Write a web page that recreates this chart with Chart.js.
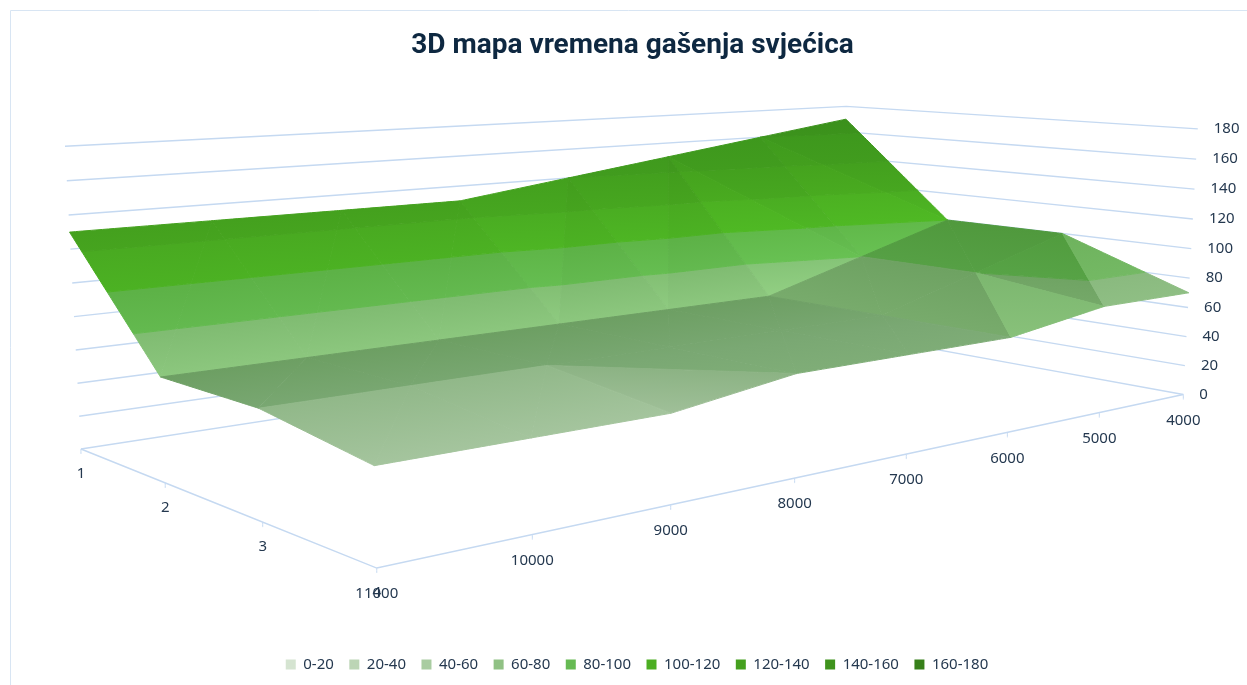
<!DOCTYPE html>
<html>
<head>
<meta charset="utf-8">
<title>3D mapa vremena gašenja svjećica</title>
<script src="https://cdn.jsdelivr.net/npm/chart.js@4"></script>
<style>
html,body{margin:0;padding:0;background:#fff}
#wrap{position:relative;width:1247px;height:685px}
canvas{display:block}
</style>
</head>
<body>
<div id="wrap"><canvas id="c" width="1247" height="685"></canvas></div>
<script>
// ---- data ----
const chartTitle = '3D mapa vremena gašenja svjećica';
const rpmLabels = [4000, 5000, 6000, 7000, 8000, 9000, 10000, 11000];
const cylinderLabels = [1, 2, 3, 4];
const series1 = [170, 160, 150, 140, 130, 130, 130, 130];
const series2 = [100, 80, 60, 60, 60, 60, 60, 60];
const series3 = [100, 80, 60, 60, 60, 60, 60, 60];
const series4 = [70, 70, 60, 60, 60, 50, 50, 50];
const valueTicks = [0, 20, 40, 60, 80, 100, 120, 140, 160, 180];
const bandLabels = ['0-20', '20-40', '40-60', '60-80', '80-100', '100-120', '120-140', '140-160', '160-180'];
const legendColors = ['#d5e4d1', '#bcd5b5', '#a9cca1', '#90c184', '#66ba53', '#4cae22', '#45a01f', '#3f931d', '#37801a'];
const bandTopColors = ['#cfe0ca', '#b8d2b2', '#90b888', '#80bc72', '#5db247', '#49aa21', '#429d1d', '#3d951c', '#388a1a'];
const bandBottomColors = ['#d8e6d4', '#c6dcc0', '#b8d2b2', '#8cc77e', '#64ba50', '#4cb223', '#46a41f', '#40991d', '#3b901b'];
const flatColors = ['#6d9f63', '#7aa873', '#80ae78'];

// ---- camera: homogeneous projection of (rpm position, cylinder position, value) ----
const CAM = {
  x: [81, 1051.8, 219.3, -17.85],
  y: [449, -2.0, 3.5, -307],
  w: [1, 0.3454, -0.2034, -0.0287]
};
const zMax = valueTicks[valueTicks.length - 1];
const nR = rpmLabels.length, nC = cylinderLabels.length;
function project(i, j, z) {
  const u = i / (nR - 1), v = j / (nC - 1), t = z / zMax;
  const f = c => c[0] + c[1] * u + c[2] * v + c[3] * t;
  const w = f(CAM.w);
  return {x: f(CAM.x) / w, y: f(CAM.y) / w};
}
// i counts from the 11000 end of the axis
const rows = [series1, series2, series3, series4];
const Z = (i, j) => rows[j][nR - 1 - i];

// ---- helpers ----
const hexRgb = h => [1, 3, 5].map(k => parseInt(h.substr(k, 2), 16));
function tint(h, shade) {
  const s = shade.s;
  const rgb = hexRgb(h).map(c => (shade.steep || s <= 1) ? c * s : c + 2 * (s - 1) * (180 - c));
  return 'rgb(' + rgb.map(c => Math.min(255, Math.round(c))).join(',') + ')';
}
function shadeOf(tri) {
  // plane z = a*i + b*j + c through the three grid vertices
  const [p, q, r] = tri;
  const d = (q.i - p.i) * (r.j - p.j) - (r.i - p.i) * (q.j - p.j);
  const a = ((q.z - p.z) * (r.j - p.j) - (r.z - p.z) * (q.j - p.j)) / d;
  const b = ((q.i - p.i) * (r.z - p.z) - (r.i - p.i) * (q.z - p.z)) / d;
  const nx = a / 30, ny = -b / 30;
  if (ny > 1.5) return {s: 1 + 0.002 * Math.max(a, 0), steep: true};
  return {s: Math.max(0.86, 0.118 + 1.11 * (0.6 * ny + 0.65) / Math.hypot(nx, ny, 1)), steep: false};
}
function clip(poly, test, level) {
  const out = [];
  for (let k = 0; k < poly.length; k++) {
    const A = poly[k], B = poly[(k + 1) % poly.length];
    const ia = test(A.z), ib = test(B.z);
    if (ia) out.push(A);
    if (ia !== ib) {
      const t = (level - A.z) / (B.z - A.z);
      out.push({i: A.i + t * (B.i - A.i), j: A.j + t * (B.j - A.j), z: level});
    }
  }
  return out;
}
function bandGradient(chart, tri, lo, hi, topCol, botCol) {
  const sx = chart.scales.x, sy = chart.scales.y;
  const P = tri.map(v => { const p = project(v.i, v.j, v.z); return {x: sx.getPixelForValue(p.x), y: sy.getPixelForValue(p.y), z: v.z}; });
  const d = (P[1].x - P[0].x) * (P[2].y - P[0].y) - (P[2].x - P[0].x) * (P[1].y - P[0].y);
  const a = ((P[1].z - P[0].z) * (P[2].y - P[0].y) - (P[2].z - P[0].z) * (P[1].y - P[0].y)) / d;
  const b = ((P[1].x - P[0].x) * (P[2].z - P[0].z) - (P[2].x - P[0].x) * (P[1].z - P[0].z)) / d;
  const g2 = a * a + b * b;
  if (!isFinite(g2) || g2 === 0) return botCol;
  const g = chart.ctx.createLinearGradient(
    P[0].x + (hi - P[0].z) * a / g2, P[0].y + (hi - P[0].z) * b / g2,
    P[0].x + (lo - P[0].z) * a / g2, P[0].y + (lo - P[0].z) * b / g2);
  g.addColorStop(0, topCol);
  g.addColorStop(1, botCol);
  return g;
}
function flatGradient(chart, z) {
  const sx = chart.scales.x, sy = chart.scales.y;
  const px = p => ({x: sx.getPixelForValue(p.x), y: sy.getPixelForValue(p.y)});
  const p0 = px(project(2, 1, z)), p1 = px(project(5, 1, z)), p3 = px(project(2, nC - 1, z));
  const dx = p1.x - p0.x, dy = p1.y - p0.y, L = Math.hypot(dx, dy);
  if (!isFinite(L) || L === 0) return flatColors[1];  // scales not sized yet
  const nx = -dy / L, ny = dx / L;
  const len = (p3.x - p0.x) * nx + (p3.y - p0.y) * ny;
  const g = chart.ctx.createLinearGradient(p0.x, p0.y, p0.x + nx * len, p0.y + ny * len);
  g.addColorStop(0, flatColors[0]);
  g.addColorStop(0.55, flatColors[1]);
  g.addColorStop(1, flatColors[2]);
  return g;
}
const closed = pts => pts.concat([pts[0]]);
const lineSet = (pts, width) => ({data: pts, showLine: true, fill: false, pointRadius: 0, borderColor: '#c5d9f1', borderWidth: width, tension: 0.00001});

// ---- walls, floor edges and tick marks ----
const paint = [];
valueTicks.forEach(v => {
  paint.push(lineSet([project(0, 0, v), project(nR - 1, 0, v), project(nR - 1, nC - 1, v)], 1.4));
});
paint.push(lineSet([project(0, 0, 0), project(0, nC - 1, 0), project(nR - 1, nC - 1, 0)], 1.4));
for (let i = 0; i < nR; i++) { const p = project(i, nC - 1, 0); paint.push(lineSet([p, {x: p.x, y: p.y + 5}], 1)); }
for (let j = 0; j < nC - 1; j++) { const p = project(0, j, 0); paint.push(lineSet([p, {x: p.x, y: p.y + 5}], 1)); }

// ---- surface, split into value bands, far triangles first ----
const tris = [];
for (let i = 0; i < nR - 1; i++) for (let j = 0; j < nC - 1; j++) {
  const V = (a, b) => ({i: a, j: b, z: Z(a, b)});
  const A = V(i, j), B = V(i + 1, j), C = V(i + 1, j + 1), D = V(i, j + 1);
  if (A.z + C.z > B.z + D.z) tris.push([A, B, C], [A, C, D]);
  else tris.push([A, B, D], [B, C, D]);
}
const depth = t => t.reduce((s, v) => s + CAM.w[1] * v.i / (nR - 1) + CAM.w[2] * v.j / (nC - 1), 0);
tris.sort((a, b) => depth(b) - depth(a));
tris.forEach(tri => {
  const s = shadeOf(tri);
  const zs = tri.map(v => v.z), zmin = Math.min(...zs), zmax = Math.max(...zs);
  bandLabels.forEach((_, b) => {
    const lo = valueTicks[b], hi = valueTicks[b + 1];
    const flat = zmin === zmax;
    if (flat ? !(zmin >= lo && zmin < hi) : (zmax <= lo || zmin >= hi)) return;
    let poly = tri;
    if (!flat) {
      poly = clip(poly, z => z >= lo, lo);
      poly = clip(poly, z => z <= hi, hi);
    }
    if (poly.length < 3) return;
    const topC = tint(bandTopColors[b], s), botC = tint(bandBottomColors[b], s);
    const bg = flat ? (c => flatGradient(c.chart, zmin)) : (c => bandGradient(c.chart, tri, lo, hi, topC, botC));
    paint.push({
      data: closed(poly.map(v => project(v.i, v.j, v.z))),
      showLine: true, fill: 'shape', tension: 0.00001, pointRadius: 0,
      backgroundColor: bg, borderColor: bg, borderWidth: 1
    });
  });
});

// ---- labels, drawn at projected axis positions ----
const TEXT = '#24384f', LABEL_FONT = '15px "Noto Sans"';
const axisText = {
  id: 'axisText',
  afterLayout(chart) { chart.legend.left += 9; },
  afterDraw(chart) {
    const {ctx, scales: {x, y}} = chart;
    ctx.save();
    ctx.fillStyle = TEXT; ctx.font = LABEL_FONT;
    ctx.textBaseline = 'middle';
    ctx.textAlign = 'left';
    valueTicks.forEach(v => { const p = project(nR - 1, nC - 1, v); ctx.fillText(String(v), x.getPixelForValue(p.x) + 16, y.getPixelForValue(p.y)); });
    ctx.textAlign = 'center';
    cylinderLabels.forEach((l, j) => { const p = project(0, j, 0); ctx.fillText(String(l), x.getPixelForValue(p.x), y.getPixelForValue(p.y) + 25); });
    rpmLabels.forEach((l, k) => { const p = project(nR - 1 - k, nC - 1, 0); ctx.fillText(String(l), x.getPixelForValue(p.x), y.getPixelForValue(p.y) + 26); });
    ctx.restore();
  }
};
const frame = {
  id: 'frame',
  beforeDraw(chart) {
    const {ctx, width, height} = chart;
    ctx.save();
    ctx.strokeStyle = '#d8e5f3'; ctx.lineWidth = 1;
    ctx.beginPath();
    ctx.moveTo(10.5, height); ctx.lineTo(10.5, 10.5); ctx.lineTo(width, 10.5);
    ctx.stroke();
    ctx.restore();
  }
};

const chart = new Chart(document.getElementById('c'), {
  type: 'scatter',
  data: {datasets: paint.reverse()},
  plugins: [frame, axisText],
  options: {
    responsive: false,
    animation: false,
    events: [],
    layout: {padding: {left: 18, right: 0, top: 0, bottom: 3}},
    scales: {
      x: {type: 'linear', display: false, min: 0, max: 1247},
      y: {type: 'linear', display: false, reverse: true, min: 0, max: 685}
    },
    plugins: {
      tooltip: {enabled: false},
      title: {
        display: true, text: chartTitle, color: '#0e2841',
        font: {family: 'Roboto', size: 28, weight: 'bold'},
        padding: {top: 29, bottom: 16}
      },
      legend: {
        position: 'bottom',
        onClick: null,
        labels: {
          boxWidth: 10, boxHeight: 10, padding: 15.5, color: TEXT,
          font: {family: '"Noto Sans"', size: 15},
          generateLabels: () => bandLabels.map((t, k) => ({text: t, fillStyle: legendColors[k], strokeStyle: legendColors[k], lineWidth: 0, fontColor: TEXT, hidden: false, datasetIndex: 0}))
        }
      }
    }
  }
});
// data units equal canvas pixels once the title and legend have taken their space
const area = chart.chartArea;
chart.options.scales.x.min = area.left; chart.options.scales.x.max = area.right;
chart.options.scales.y.min = area.top;  chart.options.scales.y.max = area.bottom;
chart.update();
</script>
</body>
</html>
